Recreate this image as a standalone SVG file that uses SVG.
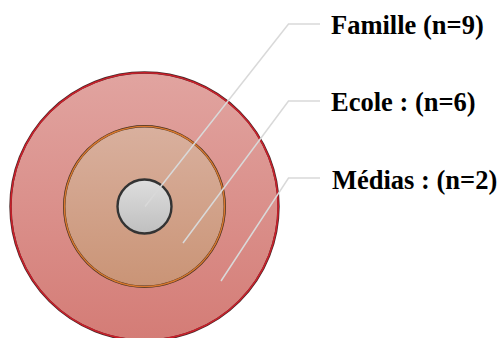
<svg xmlns="http://www.w3.org/2000/svg" width="497" height="338" viewBox="0 0 497 338">
<defs>
<linearGradient id="gOuter" x1="0" y1="0" x2="0" y2="1">
<stop offset="0" stop-color="#e1a4a0"/>
<stop offset="1" stop-color="#d47c76"/>
</linearGradient>
<linearGradient id="gMid" x1="0" y1="0" x2="0" y2="1">
<stop offset="0" stop-color="#d9b09e"/>
<stop offset="1" stop-color="#ca9476"/>
</linearGradient>
<linearGradient id="gIn" x1="0" y1="0" x2="0" y2="1">
<stop offset="0" stop-color="#dedede"/>
<stop offset="1" stop-color="#bfbfbf"/>
</linearGradient>
<style>
.lbl{font-family:"Liberation Serif","Times New Roman",serif;font-weight:bold;font-size:26.5px;fill:#000}
.lead{fill:none;stroke:#d9d9d9;stroke-width:1.5}
</style>
</defs>
<g id="medias">
<circle cx="144.5" cy="206.5" r="134" fill="url(#gOuter)" stroke="#4a2a2a" stroke-width="2.4"/>
<circle cx="144.5" cy="206.5" r="133.7" fill="none" stroke="#cc1f2a" stroke-width="1.6"/>
</g>
<g id="ecole">
<circle cx="144.5" cy="206.5" r="80.3" fill="url(#gMid)" stroke="#4a3220" stroke-width="2.4"/>
<circle cx="144.5" cy="206.5" r="80.1" fill="none" stroke="#d8782e" stroke-width="1.4"/>
</g>
<g id="famille">
<circle cx="144.5" cy="206.5" r="27" fill="url(#gIn)" stroke="#333333" stroke-width="2.4"/>
</g>
<g id="connectors">
<polyline class="lead" points="145,206.5 288.5,24 320,24"/>
<polyline class="lead" points="183,243 288.5,101 320,101"/>
<polyline class="lead" points="221,281 288.5,178 320,178"/>
</g>
<g id="labels">
<text class="lbl" x="331" y="34">Famille (n=9)</text>
<text class="lbl" x="331" y="111">Ecole : (n=6)</text>
<text class="lbl" x="332" y="189">Médias : (n=2)</text>
</g>
</svg>
